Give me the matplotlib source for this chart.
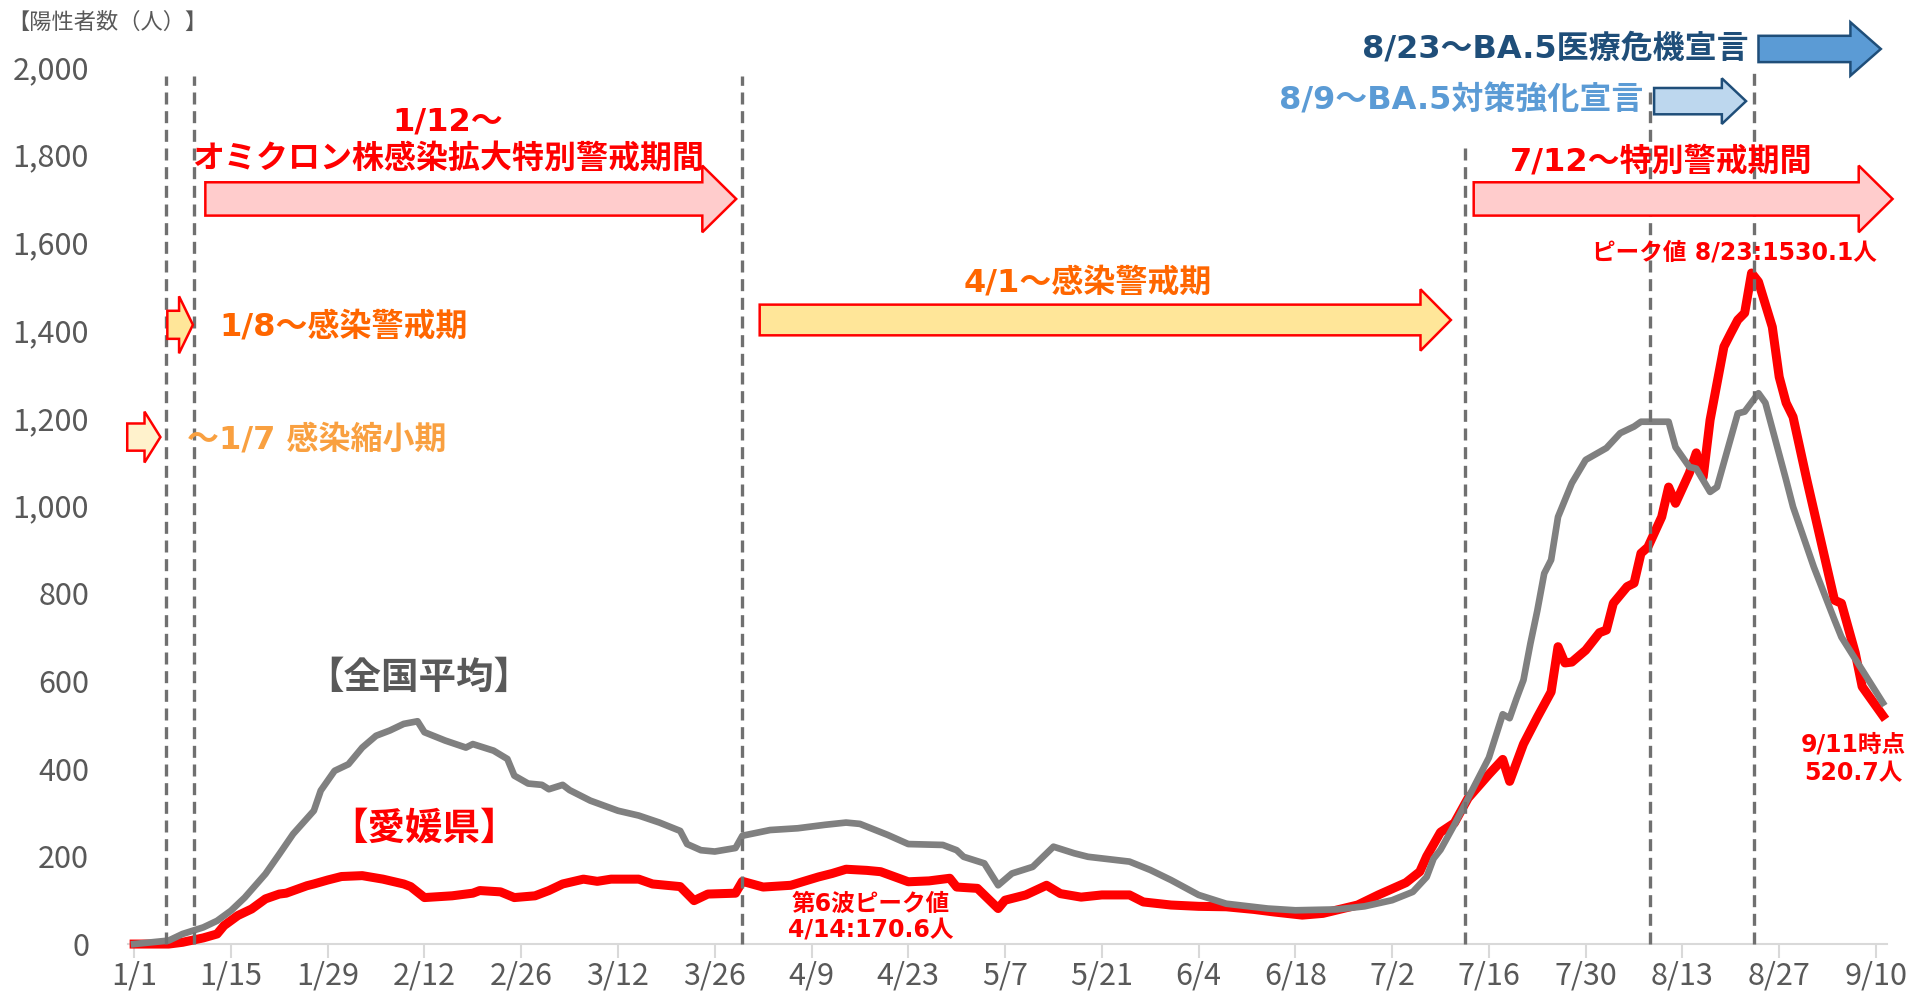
import matplotlib
matplotlib.use("Agg")
import matplotlib.pyplot as plt
from matplotlib.patches import Polygon
from matplotlib.ticker import FuncFormatter
import pandas as pd

plt.rcParams['font.family'] = ['Noto Sans CJK JP', 'DejaVu Sans']
ANNOT_FONT = ['DejaVu Sans', 'Noto Sans CJK JP']

start = pd.Timestamp('2022-01-01')

# 全国平均
zenkoku_dates = ['1/1', '1/6', '1/8', '1/11', '1/13', '1/15', '1/17', '1/20', '1/22', '1/24', '1/27', '1/28', '1/30',
                 '2/1', '2/3', '2/5', '2/7', '2/9', '2/11', '2/12', '2/15', '2/18', '2/19', '2/22', '2/24', '2/25', '2/27',
                 '3/1', '3/2', '3/4', '3/5', '3/8', '3/12', '3/15', '3/18', '3/21', '3/22', '3/24', '3/26', '3/29', '3/30',
                 '4/3', '4/7', '4/11', '4/14', '4/16', '4/20', '4/23', '4/28', '4/30',
                 '5/1', '5/4', '5/6', '5/8', '5/11', '5/14', '5/17', '5/19', '5/25', '5/28', '5/31',
                 '6/4', '6/8', '6/14', '6/18', '6/24', '6/28',
                 '7/2', '7/5', '7/7', '7/8', '7/9', '7/11', '7/13', '7/16', '7/18', '7/19', '7/20', '7/21', '7/22',
                 '7/23', '7/24', '7/25', '7/26', '7/28', '7/30',
                 '8/2', '8/4', '8/6', '8/7', '8/11', '8/12', '8/14', '8/15', '8/17', '8/18', '8/21', '8/22', '8/24',
                 '8/25', '8/28', '8/29',
                 '9/1', '9/4', '9/5', '9/8', '9/11']
zenkoku_vals = [0, 8, 23, 38, 53, 76, 106, 160, 205, 251, 304, 350, 395,
                410, 448, 475, 487, 502, 508, 483, 464, 448, 456, 441, 422, 384, 366,
                363, 353, 363, 351, 327, 304, 293, 277, 258, 228, 214, 211, 219, 247,
                260, 264, 272, 277, 274, 249, 228, 226, 214,
                199, 184, 134, 161, 176, 222, 207, 199, 188, 169, 146,
                112, 92, 81, 77, 79, 86,
                100, 119, 153, 195, 215, 272, 333, 425, 524, 515, 560, 602, 685,
                760, 845, 876, 974, 1051, 1104,
                1131, 1165, 1180, 1191, 1191, 1133, 1088, 1084, 1031, 1042, 1210, 1214, 1256,
                1234, 1058, 997,
                860, 739, 700, 625, 550]

# 愛媛県
ehime_dates = ['1/1', '1/6', '1/8', '1/11', '1/13', '1/14', '1/16', '1/18', '1/20', '1/22', '1/23', '1/26', '1/27',
               '1/29', '1/31',
               '2/3', '2/6', '2/9', '2/10', '2/12', '2/16', '2/19', '2/20', '2/23', '2/25', '2/28',
               '3/2', '3/4', '3/7', '3/9', '3/11', '3/15', '3/17', '3/21', '3/23', '3/25', '3/29', '3/30',
               '4/2', '4/6', '4/10', '4/12', '4/14', '4/17', '4/19', '4/23', '4/26', '4/29', '4/30',
               '5/3', '5/6', '5/7', '5/10', '5/13', '5/15', '5/18', '5/21', '5/25', '5/27', '5/31',
               '6/4', '6/8', '6/12', '6/15', '6/19', '6/22', '6/27', '6/30',
               '7/4', '7/6', '7/7', '7/9', '7/11', '7/13', '7/16', '7/18', '7/19', '7/21', '7/23', '7/25',
               '7/26', '7/27', '7/28', '7/30',
               '8/1', '8/2', '8/3', '8/5', '8/6', '8/7', '8/8', '8/10', '8/11', '8/12', '8/14', '8/15', '8/16',
               '8/17', '8/19', '8/20', '8/21', '8/22', '8/23', '8/24', '8/26', '8/27', '8/28', '8/29', '8/31',
               '9/2', '9/4', '9/5', '9/7', '9/8', '9/11']
ehime_vals = [0, 0, 4, 14, 23, 42, 65, 80, 103, 114, 116, 133, 137,
              146, 154,
              156, 148, 137, 131, 106, 110, 116, 122, 119, 106, 110,
              122, 137, 148, 143, 148, 148, 137, 131, 99, 114, 116, 143,
              130, 134, 153, 161, 170.6, 168, 165, 142, 144, 150, 130,
              127, 81, 100, 112, 134, 115, 107, 112, 112, 96, 89,
              86, 85, 79, 73, 66, 70, 89, 112,
              140, 165, 200, 255, 276, 333, 387, 421, 371, 456, 517, 575,
              678, 641, 643, 670,
              710, 716, 777, 815, 823, 891, 905, 974, 1042, 1005, 1074, 1120, 1065,
              1195, 1362, 1393, 1423, 1439, 1530.1, 1510, 1407, 1293, 1234, 1202, 1058,
              921, 784, 777, 664, 587, 520.7]

tick_labels = ['1/1', '1/15', '1/29', '2/12', '2/26', '3/12', '3/26', '4/9', '4/23', '5/7',
               '5/21', '6/4', '6/18', '7/2', '7/16', '7/30', '8/13', '8/27', '9/10']

# dashed period lines (day offsets as drawn) and their top ends
vline_days = [4.6, 8.7, 88.0, 192.6, 219.3, 234.3]
vline_tops = [1980, 1980, 1980, 1818, 1955, 1988]


def to_day(s):
    m, d = s.split('/')
    return (pd.Timestamp(2022, int(m), int(d)) - start).days


zx = [to_day(s) for s in zenkoku_dates]
ex = [to_day(s) for s in ehime_dates]

fig = plt.figure(figsize=(19.15, 9.99), dpi=100)
ax = fig.add_axes([0.0668, 0.055, 0.9186, 0.878])

ax.plot(ex, ehime_vals, color='#ff0000', lw=6.5, solid_joinstyle='round', zorder=3, clip_on=False)
ax.plot(zx, zenkoku_vals, color='#808080', lw=4.8, solid_joinstyle='round', zorder=3.5, clip_on=False)

for d, top in zip(vline_days, vline_tops):
    ax.plot([d, d], [0, top], color='#707070', lw=2.4, linestyle=(0, (3.6, 2)), zorder=4, clip_on=False)

ax.set_xlim(-0.9, 253.6)
ax.set_ylim(0, 2000)
ax.set_xticks([to_day(s) for s in tick_labels])
ax.set_xticklabels(tick_labels)
ax.set_yticks(range(0, 2001, 200))
ax.yaxis.set_major_formatter(FuncFormatter(lambda v, p: f'{int(v):,}'))

for s in ['top', 'right', 'left']:
    ax.spines[s].set_visible(False)
ax.spines['bottom'].set_color('#d9d9d9')
ax.spines['bottom'].set_linewidth(1.5)
ax.tick_params(axis='y', length=0, pad=28, labelsize=22, labelcolor='#595959')
ax.tick_params(axis='x', length=10, width=1.5, color='#d9d9d9', pad=2, labelsize=22, labelcolor='#595959')


def block_arrow(x0, x1, y, body, head, head_len, fc, ec, lw=1.8):
    pts = [(x0, y - body), (x1 - head_len, y - body), (x1 - head_len, y - head), (x1, y),
           (x1 - head_len, y + head), (x1 - head_len, y + body), (x0, y + body)]
    ax.add_patch(Polygon(pts, closed=True, fc=fc, ec=ec, lw=lw, zorder=5, clip_on=False, joinstyle='miter'))


def label(x, y, s, color, size=23, ha='center', weight='bold', family=ANNOT_FONT):
    ax.text(x, y, s, color=color, fontsize=size, ha=ha, va='center', fontweight=weight,
            family=family, zorder=6, clip_on=False)


# period arrows
block_arrow(10.3, 87.1, 1699, 38, 76, 4.9, '#ffcccc', '#ff0000')
block_arrow(193.8, 254.4, 1699, 38, 76, 4.9, '#ffcccc', '#ff0000')
block_arrow(90.5, 190.5, 1423, 35, 70, 4.4, '#ffe699', '#ff0000')
block_arrow(4.8, 8.5, 1412, 32, 65, 2.0, '#ffe699', '#ff0000')
block_arrow(-1.0, 3.8, 1156, 31, 58, 2.3, '#fff2cc', '#ff0000')
block_arrow(235.0, 252.7, 2041, 30, 61, 4.4, '#5b9bd5', '#1f4e79')
block_arrow(219.9, 233.2, 1922, 30, 52, 3.5, '#bdd7ee', '#1f4e79')

label(45.4, 1875, '1/12～', '#ff0000')
label(45.4, 1790, 'オミクロン株感染拡大特別警戒期間', '#ff0000')
label(220.9, 1783, '7/12～特別警戒期間', '#ff0000')
label(137.9, 1507, '4/1～感染警戒期', '#ff6600')
label(12.4, 1407, '1/8～感染警戒期', '#ff6600', ha='left')
label(7.7, 1150, '～1/7 感染縮小期', '#f9a040', size=23, ha='left')
label(233.6, 2041, '8/23～BA.5医療危機宣言', '#1f4e79', ha='right')
label(218.3, 1922, '8/9～BA.5対策強化宣言', '#5b9bd5', ha='right')

label(231.5, 1576, 'ピーク値 8/23:1530.1人', '#ff0000', size=17)
label(106.6, 92, '第6波ピーク値', '#ff0000', size=17)
label(106.6, 30, '4/14:170.6人', '#ff0000', size=17)
label(248.7, 454, '9/11時点', '#ff0000', size=17)
label(248.7, 390, '520.7人', '#ff0000', size=17)

label(41.2, 604, '【全国平均】', '#595959', size=27)
label(41.9, 260, '【愛媛県】', '#ff0000', size=27)

fig.text(0.004, 0.978, '【陽性者数（人）】', color='#595959', fontsize=16, ha='left', va='center')

fig.savefig('out.png', dpi=100)
